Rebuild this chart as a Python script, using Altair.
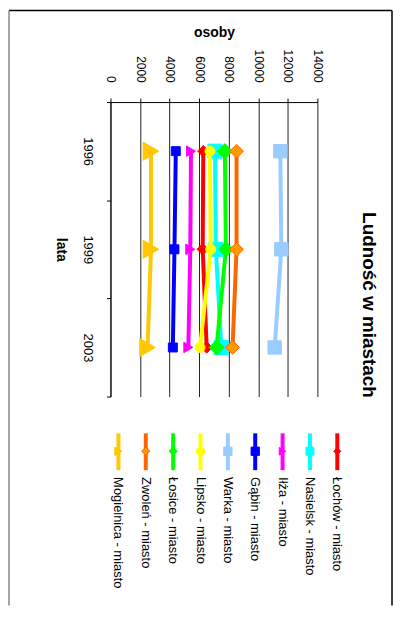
import altair as alt
import pandas as pd

# ---- data ----
years = ["1996", "1999", "2003"]
series = [
    "Łochów - miasto", "Nasielsk - miasto", "Iłża - miasto", "Gąbin - miasto",
    "Warka - miasto", "Lipsko - miasto", "Łosice - miasto", "Zwoleń - miasto",
    "Mogielnica - miasto",
]
lochow = [6280, 6240, 6510]
nasielsk = [7070, 7130, 7500]
ilza = [5450, 5400, 5270]
gabin = [4420, 4330, 4220]
warka = [11490, 11560, 11110]
lipsko = [6730, 6780, 6060]
losice = [7740, 7810, 7180]
zwolen = [8530, 8530, 8260]
mogielnica = [2740, 2740, 2510]
values = [lochow, nasielsk, ilza, gabin, warka, lipsko, losice, zwolen, mogielnica]
x_ticks = [0, 2000, 4000, 6000, 8000, 10000, 12000, 14000]
title_text = "Ludność w miastach"
x_title = "osoby"
y_title = "lata"

# ---- styles ----
colors = ["#FF0000", "#00FFFF", "#FF00FF", "#0000FF", "#99CCFF",
          "#FFFF00", "#00FF00", "#FF6600", "#FFC800"]
fills = ["#FF0000", "#00FFFF", "#FF00FF", "#0000FF", "#99CCFF",
         "#FFFF00", "#00FF00", "#FF9900", "#FFC800"]
shapes = ["diamond", "square", "triangle-right", "square", "square",
          "circle", "diamond", "diamond", "triangle-right"]
sizes = [130, 200, 110, 81, 180, 100, 230, 190, 330]
leg_sizes = [50, 64, 60, 70, 70, 70, 70, 70, 70]
FONT = "Liberation Sans"

rows = []
for s, vals in zip(series, values):
    for i, (y, v) in enumerate(zip(years, vals)):
        rows.append({"seria": s, "rok": y, "idx": i, "osoby": v})
df = pd.DataFrame(rows)

xaxis = alt.Axis(
    orient="top", values=x_ticks, format="d", labelAngle=90, labelAlign="right",
    labelBaseline="middle", labelPadding=16, tickSize=4, tickColor="black",
    domainColor="black", grid=True, gridColor="#222222", gridOpacity=1, gridWidth=1,
    labelOverlap=False, labelFlush=False, labelFont=FONT, labelFontSize=12,
    labelColor="black", title=x_title, titleAngle=0, titleX=104, titleY=-70,
    titleAlign="center", titleBaseline="middle", titleFont=FONT,
    titleFontSize=14, titleFontWeight="bold", titleColor="black",
)
yaxis = alt.Axis(
    orient="left", tickBand="extent", labelAngle=90, labelAlign="center",
    labelBaseline="middle", labelPadding=19, tickSize=4, tickColor="black",
    domainColor="black", grid=False, labelFont=FONT, labelFontSize=13,
    labelColor="black", title=y_title, titleAngle=90, titleX=-50, titleY=148,
    titleAlign="center", titleBaseline="middle", titleFont=FONT,
    titleFontSize=14, titleFontWeight="bold", titleColor="black",
)
X = alt.X("osoby:Q", scale=alt.Scale(domain=[0, 14000], nice=False, zero=True), axis=xaxis)
Y = alt.Y("rok:O", scale=alt.Scale(type="band", domain=years, paddingInner=0, paddingOuter=0),
          axis=yaxis, bandPosition=0.5)

main_layers = []
for i, s in enumerate(series):
    d = df[df.seria == s]
    main_layers.append(
        alt.Chart(d).mark_line(color=colors[i], strokeWidth=4).encode(
            x=X, y=Y, order="idx:Q")
    )
    main_layers.append(
        alt.Chart(d).mark_point(shape=shapes[i], filled=True, fill=fills[i],
                                stroke=colors[i], strokeWidth=1, size=sizes[i],
                                opacity=1).encode(x=X, y=Y)
    )
main = alt.layer(*main_layers)

# ---- legend (manual, rotated) ----
leg_df = pd.DataFrame({"seria": series})
LX = alt.X("seria:N", scale=alt.Scale(type="point", domain=series, range=[228, 8], padding=0),
           axis=None)
leg_color = alt.Color("seria:N", scale=alt.Scale(domain=series, range=colors), legend=None)
leg_layers = [
    alt.Chart(leg_df).mark_rule(strokeWidth=4).encode(
        x=LX, y=alt.value(333), y2=alt.value(370), color=leg_color),
    alt.Chart(leg_df).mark_text(angle=90, align="left", baseline="middle",
                                font=FONT, fontSize=13, color="black").encode(
        x=LX, y=alt.value(377), text="seria:N"),
]
for i, s in enumerate(series):
    leg_layers.append(
        alt.Chart(leg_df[leg_df.seria == s]).mark_point(
            shape=shapes[i], filled=True, fill=fills[i], stroke=colors[i],
            strokeWidth=1, size=leg_sizes[i], opacity=1).encode(x=LX, y=alt.value(351))
    )
leg_layers.append(
    alt.Chart(pd.DataFrame({"t": [title_text]})).mark_text(
        angle=90, align="center", baseline="middle", font=FONT, fontSize=19,
        fontWeight="bold", color="black").encode(
        x=alt.value(260), y=alt.value(204), text="t:N")
)
frame = pd.DataFrame({"t": [0]})
leg_layers += [
    alt.Chart(frame).mark_rule(color="black", strokeWidth=1.5).encode(
        x=alt.value(-102), x2=alt.value(283), y=alt.value(-92)),
    alt.Chart(frame).mark_rule(color="#888888", strokeWidth=1.5).encode(
        x=alt.value(-102), y=alt.value(-92), y2=alt.value(506)),
    alt.Chart(frame).mark_rule(color="black", strokeWidth=1.5).encode(
        x=alt.value(283), y=alt.value(-92), y2=alt.value(506)),
]
legend = alt.layer(*leg_layers)

chart = alt.layer(main, legend).resolve_scale(
    x="independent", y="independent", color="independent"
).properties(
    width=208, height=296, padding=0, background="white"
).configure_view(stroke=None)

chart.save("out.html", embed_options={"renderer": "svg", "actions": False})
